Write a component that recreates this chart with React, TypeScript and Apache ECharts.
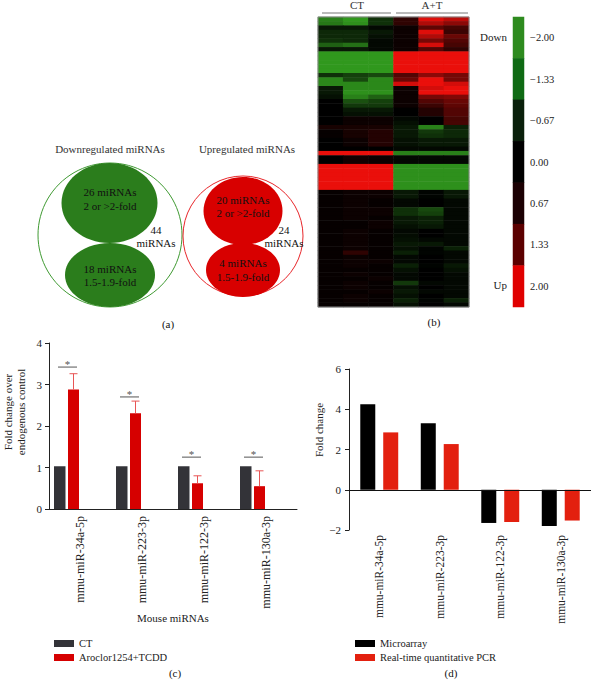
import { useEffect, useRef } from 'react';
import * as echarts from 'echarts';

const FONT = '"Liberation Serif", "Times New Roman", serif';

// ---------- Panel (a): counts ----------
const downGroups = [26, 18];
const upGroups = [20, 4];
const foldRanges = ['2 or >2-fold', '1.5-1.9-fold'];

// ---------- Panel (b): heatmap ----------
const heatmapColumns = ['CT-1', 'CT-2', 'CT-3', 'A+T-1', 'A+T-2', 'A+T-3'];
const heatmapValues: number[][] = [
  [-1.6, -1.9, -0.6, 0.4, 1.9, 1.6],
  [-1.5, -1.8, -0.6, 0.4, 1.5, 1.2],
  [-0.3, -0.3, -0.1, 0.1, 0.8, 0.6],
  [-0.5, -0.5, -0.3, 0.1, 1.9, 0.5],
  [-0.5, -0.5, -0.2, 0.1, 1.5, 0.9],
  [-0.6, -0.5, -0.1, 0.1, 1.0, 0.7],
  [-1.2, -1.4, -0.1, 0.1, 1.8, 0.6],
  [-0.3, -0.3, -0.1, 0.1, 0.7, 0.4],
  [-1.9, -1.9, -1.9, 2, 2, 2],
  [-1.9, -1.9, -1.9, 2, 2, 2],
  [-1.9, -1.9, -1.9, 2, 2, 2],
  [-1.9, -1.9, -1.9, 2, 2, 2],
  [-1.9, -1.9, -1.9, 2, 2, 2],
  [-0.6, -0.8, -0.9, 0.7, 1.2, 1.0],
  [-1.7, -0.9, -1.7, 0.9, 2, 1.0],
  [-1.7, -1.7, -1.7, 1.8, 2, 1.8],
  [-0.3, -1.7, -1.7, 0.1, 1.8, 2],
  [-0.3, -1.8, -1.8, 0.1, 2, 2],
  [-0.2, -1.6, -1.2, 0.1, 1.0, 1.1],
  [0, -1.0, -0.8, 0.1, 0.7, 0.9],
  [0, -0.7, -0.7, 0.1, 0.5, 0.8],
  [0, -0.3, -0.3, 0, 0.3, 0.7],
  [0, -0.2, -0.2, 0, 0.3, 0.7],
  [0, 0.1, 0.1, -0.1, 0, 0.6],
  [0, 0.1, 0.1, -0.2, 0, 0.6],
  [0.2, 0.2, 0.2, -0.3, -1.6, -0.4],
  [0.05, 0.2, 0.3, -0.3, -0.7, -0.5],
  [0.05, 0.2, 0.3, -0.3, -0.6, -0.5],
  [0, 0.1, 0.3, -0.2, -0.3, -0.3],
  [0, 0.1, 0.3, -0.2, -0.3, -0.3],
  [0, 0, 0, -0.1, -0.1, -0.1],
  [2, 2, 2, -1.6, -1.6, -1.6],
  [0, 0.15, 0.1, -0.1, -0.1, -0.1],
  [0, 0.15, 0.1, -0.1, -0.1, -0.1],
  [2, 2, 2, -1.8, -1.8, -1.8],
  [2, 2, 2, -1.8, -1.8, -1.8],
  [2, 2, 2, -1.8, -1.8, -1.8],
  [2, 2, 2, -1.8, -1.8, -1.8],
  [2, 2, 2, -1.8, -1.8, -1.8],
  [2, 2, 2, -1.8, -1.8, -1.8],
  [0.05, 0.1, 0.1, -0.3, -0.05, -0.3],
  [0.05, 0.1, 0.1, -0.3, -0.05, -0.3],
  [0.05, 0.1, 0.05, -0.1, 0, -0.1],
  [0.05, 0.1, 0.05, -0.1, 0, -0.1],
  [0.05, 0.1, 0.1, -0.6, -0.9, -0.1],
  [0.05, 0.1, 0.1, -0.6, -0.8, -0.1],
  [0.05, 0.1, 0.05, -0.3, -0.4, -0.1],
  [0.05, 0.05, 0.1, -0.3, -0.4, -0.1],
  [0.05, 0.05, 0.1, -0.2, -0.3, -0.1],
  [0.05, 0.1, 0.05, -0.1, 0, -0.1],
  [0.05, 0.1, 0.05, -0.15, 0, -0.1],
  [0.05, 0.1, 0.05, -0.2, -0.1, -0.1],
  [0.05, 0.1, 0.05, -0.3, -0.3, -0.1],
  [0.05, 0.1, 0.05, -0.2, -0.05, -0.4],
  [0.05, 0.4, 0.05, -0.4, -0.05, -0.1],
  [0.05, 0.1, 0.05, -0.1, 0, -0.1],
  [0.05, 0.1, 0.1, -0.1, 0, -0.1],
  [0.05, 0.1, 0.05, -0.4, -0.05, -0.3],
  [0.05, 0.05, 0.05, -0.2, 0, -0.2],
  [0.05, 0.1, 0.05, -0.1, 0, -0.1],
  [0.05, 0.05, 0.1, -0.1, 0, -0.1],
  [0.05, 0.1, 0.05, -0.7, -0.1, -0.1],
  [0.05, 0.1, 0.05, -0.2, 0, -0.1],
  [0.05, 0.05, 0.1, -0.3, -0.1, -0.1],
  [0.05, 0.1, 0.05, -0.2, 0, -0.1],
  [0.05, 0.1, 0.05, -0.4, -0.05, -0.4],
  [0.05, 0.05, 0.05, -0.2, 0, -0.1],
];
const colorbarTicks = [-2, -1.33, -0.67, 0, 0.67, 1.33, 2];
const colorbarColors = ['#2e8b1f', '#0f6b14', '#0a200b', '#000000', '#1b0003', '#5c0000', '#e00000'];

// ---------- Panel (c) ----------
const mirnas = ['mmu-miR-34a-5p', 'mmu-miR-223-3p', 'mmu-miR-122-3p', 'mmu-miR-130a-3p'];
const ctFold = [1.03, 1.03, 1.03, 1.03];
const treatedFold = [2.88, 2.31, 0.62, 0.55];
const treatedErrTop = [3.26, 2.6, 0.8, 0.92];
const sigLevel = [3.42, 2.7, 1.25, 1.25];

// ---------- Panel (d) ----------
const microarrayFold = [4.25, 3.3, -1.65, -1.8];
const qpcrFold = [2.85, 2.27, -1.6, -1.53];

const fmtTick = (v: number) => (v < 0 ? '\u2212' + Math.abs(v).toFixed(2) : v.toFixed(2));
const fmtInt = (v: number) => (v < 0 ? '\u2212' + Math.abs(v) : String(v));

export default function App() {
  const ref = useRef<HTMLDivElement>(null);
  useEffect(() => {
    if (!ref.current) return;
    const chart = echarts.init(ref.current, null, { renderer: 'svg' });

    const heatData: number[][] = [];
    heatmapValues.forEach((row, r) => row.forEach((v, c) => heatData.push([c, r, v])));
    const rowNames = heatmapValues.map((_, i) => 'miR-' + (i + 1));

    const G = '#2b7d1c';
    const R = '#d80000';
    const txt = (x: number, y: number, text: string, extra: any = {}) => ({
      type: 'text',
      x,
      y,
      z: 20,
      style: {
        text,
        fill: '#111',
        fontFamily: FONT,
        fontSize: 11,
        align: 'center',
        verticalAlign: 'middle',
        lineHeight: 13,
        ...extra,
      },
    });

    const barRender = (offset: number, width: number) => (params: any, api: any) => {
      const i = api.value(0);
      const v = api.value(1);
      const top = api.coord([i, v]);
      const base = api.coord([i, 0]);
      return {
        type: 'rect',
        shape: { x: top[0] + offset, y: top[1], width, height: base[1] - top[1] },
        style: { fill: api.visual('color') },
      };
    };

    const option: any = {
      animation: false,
      textStyle: { fontFamily: FONT },
      grid: [
        { left: 318, top: 17, width: 151, height: 290 },
        { left: 513, top: 17, width: 11, height: 290 },
        { left: 49, top: 343, width: 248, height: 166 },
        { left: 349, top: 369, width: 242, height: 161 },
      ],
      xAxis: [
        { gridIndex: 0, type: 'category', data: heatmapColumns, show: false },
        { gridIndex: 1, type: 'category', data: ['scale'], show: false },
        {
          gridIndex: 2,
          type: 'category',
          data: mirnas,
          axisLine: { lineStyle: { color: '#222' } },
          axisTick: { alignWithLabel: true, length: 4, lineStyle: { color: '#222' } },
          axisLabel: { rotate: 90, fontSize: 12, margin: 7, color: '#222', fontFamily: FONT },
          name: 'Mouse miRNAs',
          nameLocation: 'middle',
          nameGap: 103,
          nameTextStyle: { fontSize: 11, color: '#222', fontFamily: FONT },
        },
        {
          gridIndex: 3,
          type: 'category',
          data: mirnas,
          axisLine: { show: false, onZero: false },
          axisTick: { show: false },
          axisLabel: { rotate: 90, fontSize: 11.5, margin: 5, color: '#222', fontFamily: FONT },
        },
      ],
      yAxis: [
        { gridIndex: 0, type: 'category', data: rowNames, inverse: true, show: false },
        {
          gridIndex: 1,
          type: 'category',
          data: colorbarTicks.map(fmtTick),
          inverse: true,
          position: 'right',
          axisLine: { show: false },
          axisTick: { show: false },
          axisLabel: { fontSize: 10.5, margin: 6, color: '#222', fontFamily: FONT },
        },
        {
          gridIndex: 2,
          type: 'value',
          min: 0,
          max: 4,
          interval: 1,
          axisLine: { show: true, lineStyle: { color: '#222' } },
          axisTick: { show: true, length: 4, lineStyle: { color: '#222' } },
          splitLine: { show: false },
          axisLabel: { fontSize: 11, margin: 7, color: '#222', fontFamily: FONT },
        },
        {
          gridIndex: 3,
          type: 'value',
          min: -2,
          max: 6,
          interval: 2,
          axisLine: { show: true, lineStyle: { color: '#222' } },
          axisTick: { show: true, length: 4, lineStyle: { color: '#222' } },
          splitLine: { show: false },
          axisLabel: { fontSize: 11, margin: 8, color: '#222', fontFamily: FONT, formatter: fmtInt },
        },
      ],
      visualMap: [
        {
          type: 'continuous',
          show: false,
          seriesIndex: 0,
          dimension: 2,
          min: -2,
          max: 2,
          inRange: { color: ['#33a01f', '#000000', '#ea0f0b'] },
        },
        {
          type: 'piecewise',
          show: false,
          seriesIndex: 1,
          dimension: 2,
          pieces: colorbarColors.map((c, i) => ({ value: i, color: c })),
        },
      ],
      legend: [
        {
          data: ['CT', 'Aroclor1254+TCDD'],
          orient: 'vertical',
          left: 49,
          top: 633,
          icon: 'rect',
          itemWidth: 20,
          itemHeight: 7,
          itemGap: 3,
          selectedMode: false,
          textStyle: { fontSize: 10.5, lineHeight: 11, color: '#222', fontFamily: FONT },
        },
        {
          data: ['Microarray', 'Real-time quantitative PCR'],
          orient: 'vertical',
          left: 350,
          top: 633,
          icon: 'rect',
          itemWidth: 20,
          itemHeight: 7,
          itemGap: 3,
          selectedMode: false,
          textStyle: { fontSize: 10.5, lineHeight: 11, color: '#222', fontFamily: FONT },
        },
      ],
      series: [
        {
          type: 'heatmap',
          xAxisIndex: 0,
          yAxisIndex: 0,
          data: heatData,
          itemStyle: { borderWidth: 0 },
          emphasis: { disabled: true },
        },
        {
          type: 'heatmap',
          xAxisIndex: 1,
          yAxisIndex: 1,
          data: colorbarTicks.map((_, i) => [0, i, i]),
          itemStyle: { borderWidth: 0 },
          emphasis: { disabled: true },
        },
        {
          type: 'custom',
          name: 'CT',
          xAxisIndex: 2,
          yAxisIndex: 2,
          itemStyle: { color: '#333338' },
          encode: { x: 0, y: 1 },
          data: ctFold.map((v, i) => [i, v]),
          renderItem: barRender(-26, 11.5),
        },
        {
          type: 'custom',
          name: 'Aroclor1254+TCDD',
          xAxisIndex: 2,
          yAxisIndex: 2,
          itemStyle: { color: '#d60000' },
          encode: { x: 0, y: 1 },
          data: treatedFold.map((v, i) => [i, v]),
          renderItem: barRender(-12, 11),
        },
        {
          type: 'custom',
          name: 'error',
          xAxisIndex: 2,
          yAxisIndex: 2,
          encode: { x: 0, y: [1, 2] },
          data: treatedFold.map((v, i) => [i, v, treatedErrTop[i]]),
          renderItem: (params: any, api: any) => {
            const i = api.value(0);
            const p1 = api.coord([i, api.value(1)]);
            const p2 = api.coord([i, api.value(2)]);
            const x = p1[0] - 6.5;
            const st = { stroke: '#e85555', lineWidth: 1 };
            return {
              type: 'group',
              children: [
                { type: 'line', shape: { x1: x, y1: p1[1], x2: x, y2: p2[1] }, style: st },
                { type: 'line', shape: { x1: x - 4, y1: p2[1], x2: x + 4, y2: p2[1] }, style: st },
              ],
            };
          },
        },
        {
          type: 'custom',
          name: 'significance',
          xAxisIndex: 2,
          yAxisIndex: 2,
          encode: { x: 0, y: 1 },
          data: sigLevel.map((v, i) => [i, v]),
          renderItem: (params: any, api: any) => {
            const i = api.value(0);
            const p = api.coord([i, api.value(1)]);
            return {
              type: 'group',
              children: [
                {
                  type: 'line',
                  shape: { x1: p[0] - 22, y1: p[1], x2: p[0] - 3, y2: p[1] },
                  style: { stroke: '#555', lineWidth: 1 },
                },
                {
                  type: 'text',
                  x: p[0] - 12.5,
                  y: p[1] - 3,
                  style: {
                    text: '*',
                    fill: '#555',
                    fontSize: 11,
                    fontFamily: FONT,
                    align: 'center',
                    verticalAlign: 'middle',
                  },
                },
              ],
            };
          },
        },
        {
          type: 'bar',
          name: 'Microarray',
          xAxisIndex: 3,
          yAxisIndex: 3,
          barWidth: 15,
          barGap: '53%',
          itemStyle: { color: '#000000' },
          data: microarrayFold,
          markLine: {
            silent: true,
            symbol: ['none', 'none'],
            label: { show: false },
            lineStyle: { color: '#111', type: 'solid', width: 1 },
            data: [{ yAxis: 0 }],
          },
        },
        {
          type: 'bar',
          name: 'Real-time quantitative PCR',
          xAxisIndex: 3,
          yAxisIndex: 3,
          barWidth: 15,
          barGap: '53%',
          itemStyle: { color: '#e3200f' },
          data: qpcrFold,
        },
      ],
      graphic: [
        // Panel (a)
        txt(110, 149, 'Downregulated miRNAs', { fill: '#333' }),
        txt(247, 149, 'Upregulated miRNAs', { fill: '#333' }),
        { type: 'circle', shape: { cx: 110, cy: 235, r: 72 }, style: { fill: 'none', stroke: '#3f9a32', lineWidth: 1 } },
        { type: 'ellipse', shape: { cx: 109.5, cy: 203, rx: 48, ry: 40 }, style: { fill: G } },
        { type: 'ellipse', shape: { cx: 110, cy: 275, rx: 45, ry: 32 }, style: { fill: G } },
        txt(110, 199, `${downGroups[0]} miRNAs\n${foldRanges[0]}`, { lineHeight: 14 }),
        txt(110, 275.5, `${downGroups[1]} miRNAs\n${foldRanges[1]}`, { lineHeight: 13 }),
        txt(156, 236.5, `${downGroups[0] + downGroups[1]}\nmiRNAs`),
        { type: 'circle', shape: { cx: 243, cy: 236, r: 60 }, style: { fill: 'none', stroke: '#e8262a', lineWidth: 1 } },
        { type: 'ellipse', shape: { cx: 243, cy: 211, rx: 39.5, ry: 34 }, style: { fill: R } },
        { type: 'ellipse', shape: { cx: 243, cy: 270, rx: 37, ry: 27 }, style: { fill: R } },
        txt(243, 206.5, `${upGroups[0]} miRNAs\n${foldRanges[0]}`, { lineHeight: 13 }),
        txt(243, 270, `${upGroups[1]} miRNAs\n${foldRanges[1]}`, { lineHeight: 14 }),
        txt(284, 236.5, `${upGroups[0] + upGroups[1]}\nmiRNAs`),
        txt(168, 324, '(a)'),
        // Panel (b)
        txt(357, 5, 'CT', { fill: '#333' }),
        txt(432, 5, 'A+T', { fill: '#333' }),
        { type: 'line', shape: { x1: 322, y1: 13, x2: 391, y2: 13 }, style: { stroke: '#777', lineWidth: 1.2 } },
        { type: 'line', shape: { x1: 396, y1: 13, x2: 468, y2: 13 }, style: { stroke: '#777', lineWidth: 1.2 } },
        { type: 'rect', z: 20, shape: { x: 318, y: 17, width: 151, height: 290 }, style: { fill: 'none', stroke: '#888', lineWidth: 1 } },
        txt(507, 37, 'Down', { align: 'right', fill: '#222' }),
        txt(507, 285, 'Up', { align: 'right', fill: '#222' }),
        txt(434, 322, '(b)'),
        // Panel (c)
        txt(14, 412, 'Fold change over\nendogenous control', { fill: '#222' }),
        txt(175, 673, '(c)'),
        // Panel (d)
        txt(319, 430, 'Fold change', { fill: '#222' }),
        txt(451, 673, '(d)'),
      ],
    };
    // rotate y titles
    option.graphic[option.graphic.length - 4].rotation = Math.PI / 2;
    option.graphic[option.graphic.length - 2].rotation = Math.PI / 2;

    chart.setOption(option);
    return () => chart.dispose();
  }, []);

  return (
    <div
      ref={ref}
      style={{ position: 'absolute', left: 0, top: 0, width: 593, height: 680, background: '#fff' }}
    />
  );
}
